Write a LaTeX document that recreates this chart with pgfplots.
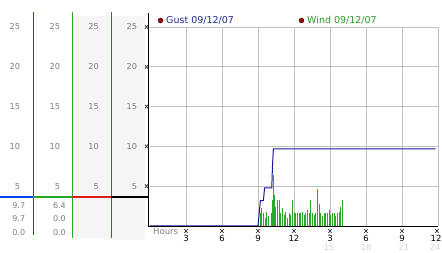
\documentclass[border=0pt]{standalone}
\usepackage{fontspec}
\setmainfont{DejaVu Sans}
\usepackage{pgfplots}
\pgfplotsset{compat=1.18}
\definecolor{gustc}{RGB}{25,25,150}
\definecolor{windc}{RGB}{40,170,40}
\definecolor{panelblue}{RGB}{0,70,240}
\definecolor{panelgreen}{RGB}{40,170,40}
\definecolor{panelred}{RGB}{225,30,30}
\definecolor{gridc}{RGB}{192,192,192}
\definecolor{txtgray}{RGB}{125,125,125}
\definecolor{panelbg}{RGB}{245,245,245}
\definecolor{faint}{RGB}{215,215,215}
\definecolor{dotred}{RGB}{170,0,0}
\definecolor{gusttxt}{RGB}{30,45,140}
\definecolor{windtxt}{RGB}{40,155,40}
\begin{document}
\begin{tikzpicture}
\path[use as bounding box] (-150pt,-27pt) rectangle (292pt,226pt);
\begin{scope}[x=1pt,y=-1pt,shift={(-150pt,226pt)}]
  \fill[panelbg] (72.8,16) rectangle (111,238);
  \fill[panelbg] (111.8,16) rectangle (145,240);
\end{scope}
\begin{axis}[
  at={(0,0)}, anchor=south west, scale only axis,
  width=288pt, height=199pt,
  xmin=0, xmax=24, ymin=0, ymax=25,
  axis line style={draw=none},
  major tick length=0pt,
  xtick={3,6,...,24}, ytick={5,10,...,25},
  grid=major, major grid style={gridc, line width=0.8pt},
  yticklabels={},
  xticklabels={3,6,9,12,3,6,9,\makebox[7pt][r]{12}},
  xticklabel style={font=\fontsize{8.5}{9}\selectfont, text=black, yshift=-6pt},
]
\addplot[gustc, line width=1pt] coordinates {
  (0,0) (9.0,0) (9.2,3.2) (9.45,3.2) (9.55,4.8) (10.15,4.8) (10.2,7.3) (10.28,9.7) (23.8,9.7)
};
\addplot[windc, line width=0.9pt] coordinates {(9.0,0) (23.8,0)};
\addplot[windc, ycomb, line width=0.9pt] coordinates {
(9.17,1.6) (9.31,2.2) (9.44,1.6) (9.58,1.0) (9.72,1.8) (9.86,1.2)
(10.08,1.6) (10.19,3.3) (10.28,6.4) (10.36,3.9) (10.47,2.4) (10.61,3.3)
(10.75,3.3) (10.89,1.6) (11.03,2.2) (11.17,1.4) (11.31,1.8) (11.44,1.0)
(11.58,1.6) (11.72,1.4) (11.86,3.3) (12.00,1.6) (12.14,1.6) (12.28,1.6)
(12.42,1.6) (12.56,1.6) (12.69,1.8) (12.83,1.4) (12.97,1.6) (13.11,2.0)
(13.25,1.6) (13.39,3.3) (13.53,1.6) (13.67,1.4) (13.81,1.6) (13.94,4.7)
(14.08,2.8) (14.22,1.6) (14.36,1.2) (14.50,1.6) (14.64,1.6) (14.78,1.6)
(14.92,2.0) (15.06,1.4) (15.19,1.6) (15.33,1.6) (15.47,1.2) (15.61,1.6)
(15.75,1.8) (15.89,2.4) (16.03,3.3)
};
\end{axis}
\begin{scope}[x=1pt,y=-1pt,shift={(-150pt,226pt)}]
  % main axis lines
  \draw[black, line width=1pt] (149,13) -- (149,227) -- (438,227);
  % panel vertical lines
  \fill[panelblue] (32.8,12) rectangle (34.2,235);
  \fill[panelgreen] (71.8,12) rectangle (73.2,238);
  \fill[panelred] (110.8,12) rectangle (112.2,238);
  % current-value bar
  \draw[panelblue, line width=2pt] (0,197) -- (33.5,197);
  \draw[panelgreen, line width=2pt] (33.5,197) -- (72.5,197);
  \draw[panelred, line width=2pt] (72.5,197) -- (111.5,197);
  \draw[black, line width=2pt] (111.5,197) -- (149,197);
  % scale labels
  \foreach \v/\py in {25/27,20/66.8,15/106.6,10/146.4,5/186.2}{
    \foreach \px in {20.3,60.3,99,137.3}{
      \node[anchor=east, inner sep=0pt, text=txtgray, font=\fontsize{8.2}{9}\selectfont] at (\px,\py) {\v};
    }
    \draw[black!80, line width=0.7pt] (145,\py-1.8) -- (148,\py+1.8) (145,\py+1.8) -- (148,\py-1.8);
  }
  % values
  \foreach \t/\px/\py in {9.7/25.3/205.5, 9.7/25.3/218.3, 0.0/25.3/232.3, 6.4/66/205.5, 0.0/66/218.3, 0.0/66/232.3}{
    \node[anchor=east, inner sep=0pt, text=txtgray, font=\fontsize{8}{9}\selectfont] at (\px,\py) {\t};
  }
  % x tick marks
  \foreach \px in {186,222,258,294,330,366,402,437}{
    \draw[black!80, line width=0.7pt] (\px-1.6,229.2) -- (\px+1.6,232.8) (\px-1.6,232.8) -- (\px+1.6,229.2);
  }
  \node[anchor=west, inner sep=0pt, text=txtgray, font=\fontsize{8.5}{9}\selectfont] at (153,231.5) {Hours};
  % faint 24h labels
  \foreach \t/\px in {15/329,18/366,21/404,24/435}{
    \node[inner sep=0pt, text=faint, font=\fontsize{8.5}{9}\selectfont] at (\px,247) {\t};
  }
  % legend
  \filldraw[fill=dotred, draw=black, line width=0.3pt] (160.5,20.5) circle (2.5);
  \node[anchor=base west, inner sep=0pt, text=gusttxt, font=\fontsize{9.5}{10}\selectfont] at (166,24) {Gust 09/12/07};
  \filldraw[fill=dotred, draw=black, line width=0.3pt] (301.5,20.5) circle (2.5);
  \node[anchor=base west, inner sep=0pt, text=windtxt, font=\fontsize{9.5}{10}\selectfont] at (307,24) {Wind 09/12/07};
\end{scope}
\end{tikzpicture}
\end{document}
